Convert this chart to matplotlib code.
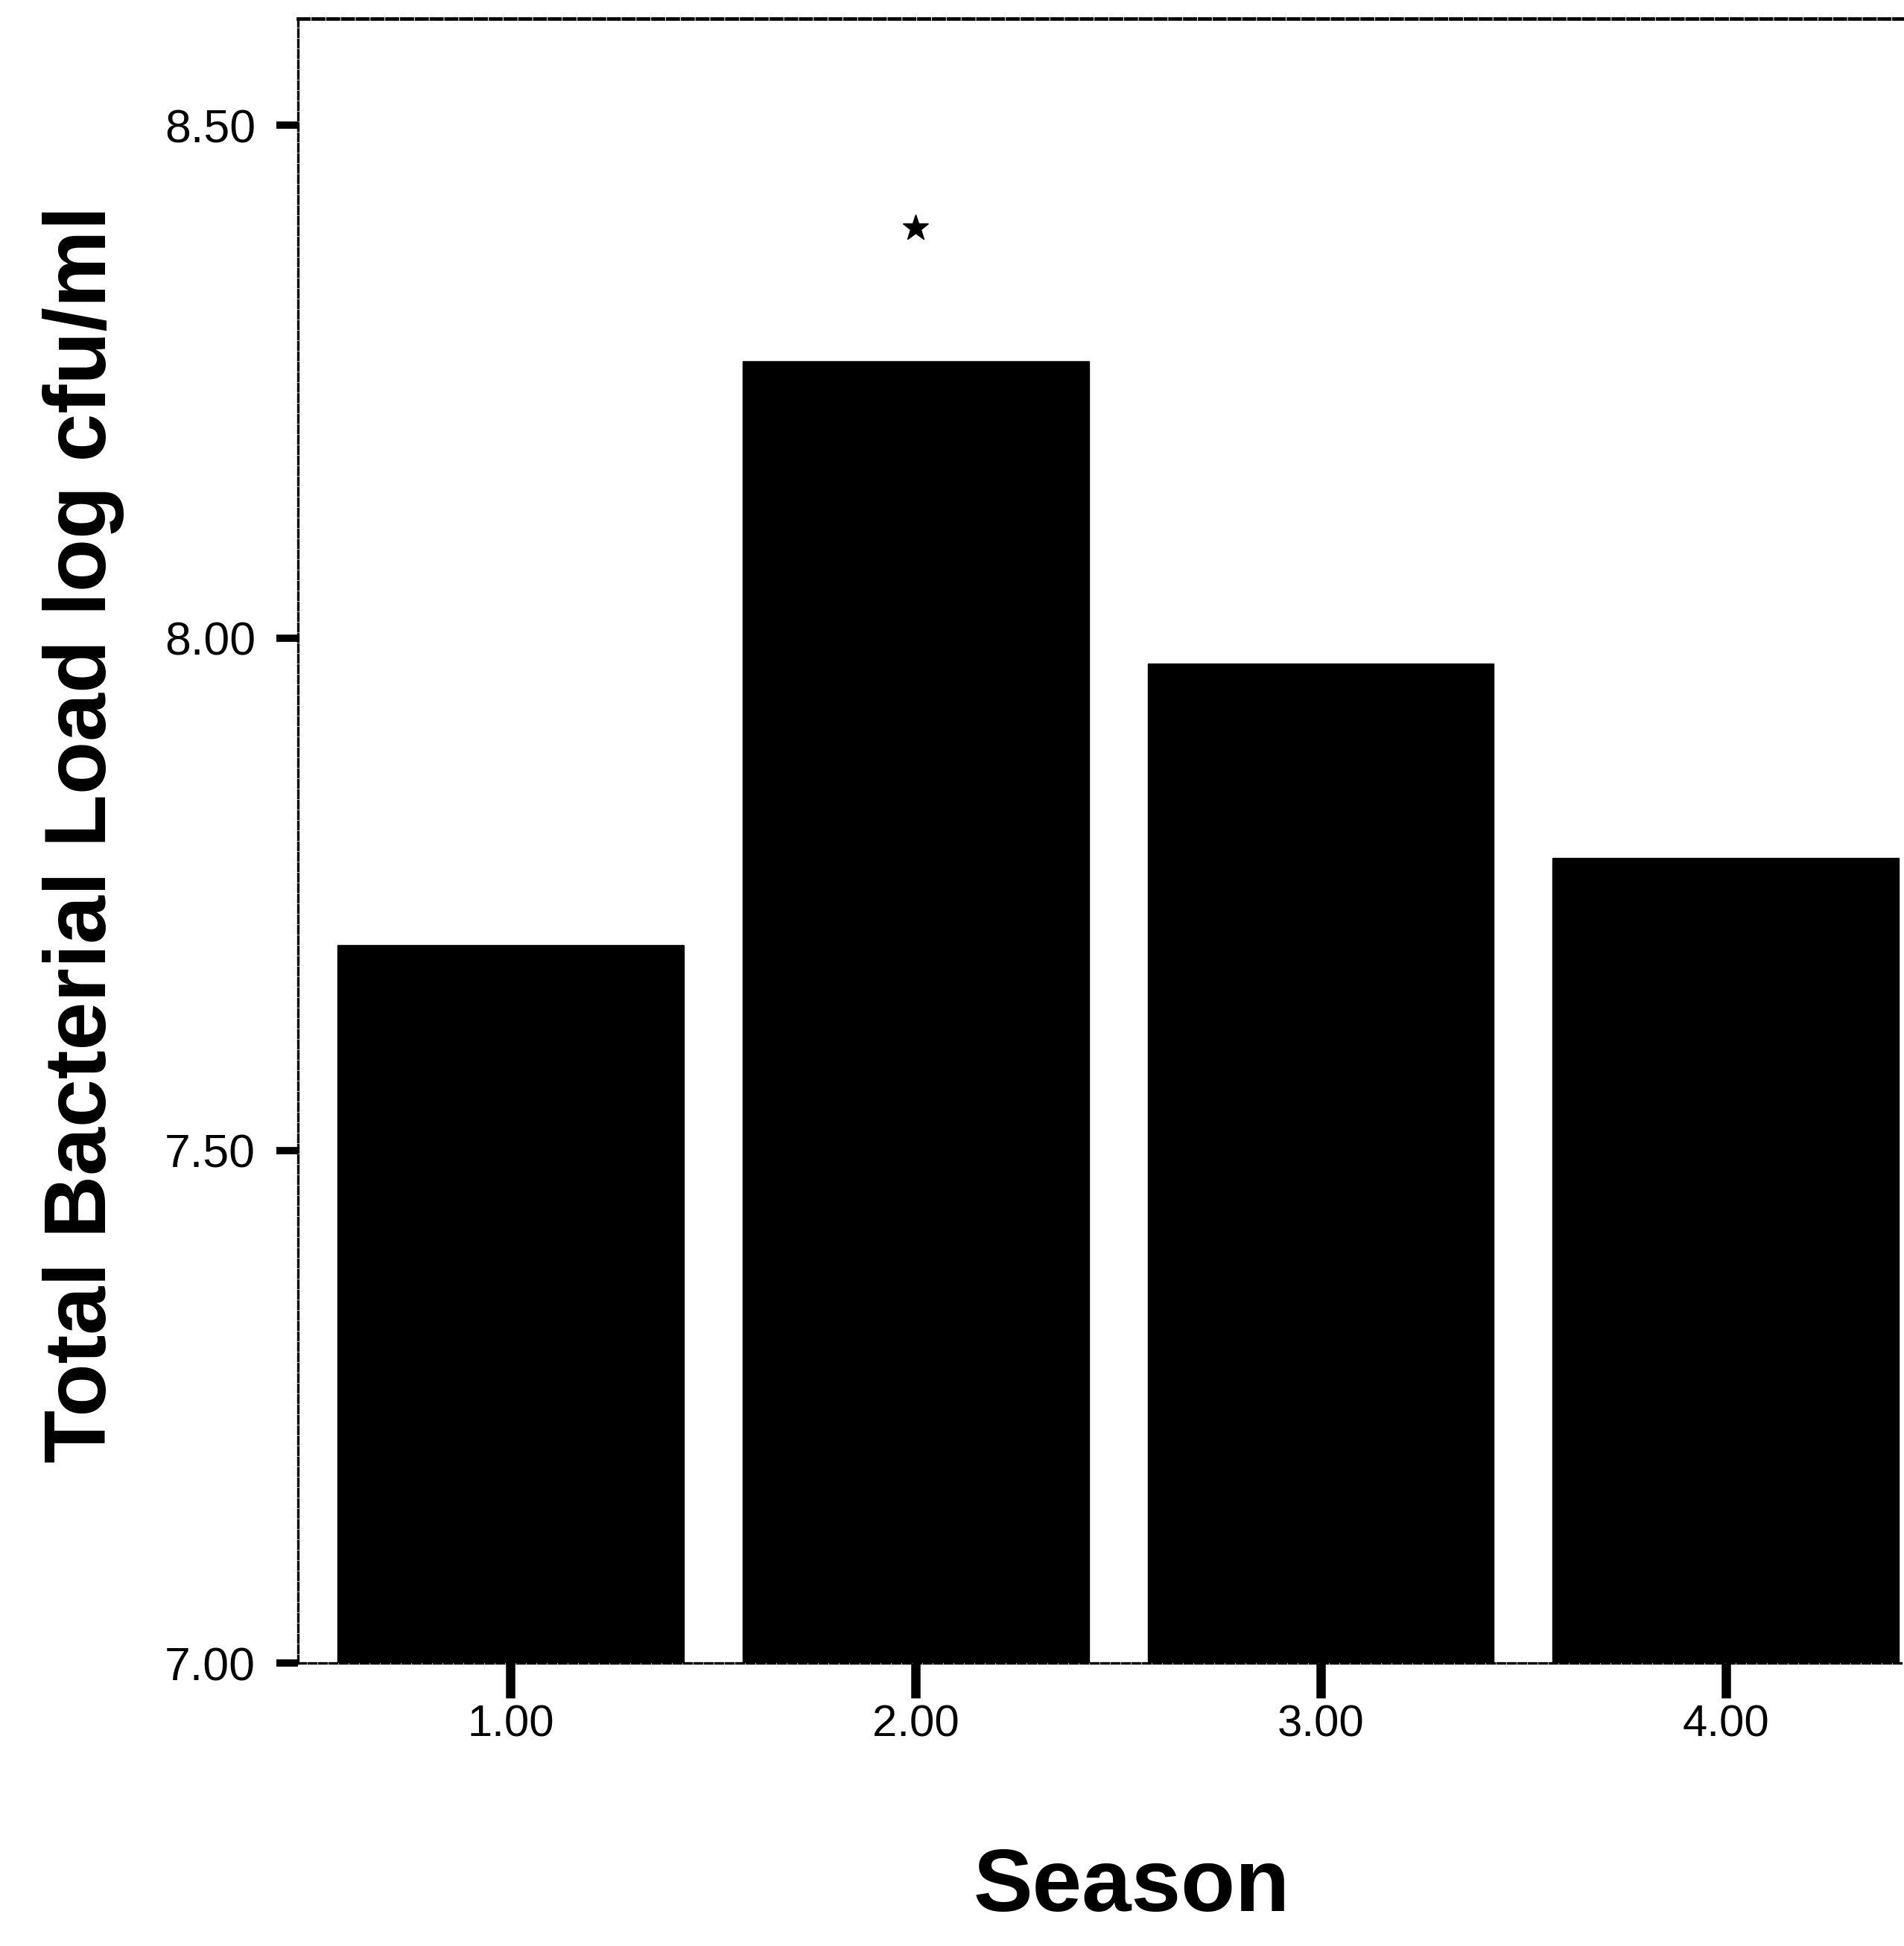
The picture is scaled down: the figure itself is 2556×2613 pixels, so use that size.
import matplotlib.pyplot as plt

# seasonal mean bacterial load (log cfu/ml)
season = [1, 2, 3, 4]
season_labels = ['1.00', '2.00', '3.00', '4.00']
load_mean = [7.70, 8.27, 7.975, 7.785]

# significance star over season 2
star_season = 2
star_value = 8.40

ytick_vals = [7.0, 7.5, 8.0, 8.5]
ytick_labels = ['7.00', '7.50', '8.00', '8.50']

plt.rcParams['font.family'] = ['Liberation Sans', 'DejaVu Sans']

fig = plt.figure(figsize=(25.56, 26.13), dpi=100)
ax = fig.add_axes([0.1565, 0.1454, 0.8435, 0.845])

ax.bar(season, load_mean, width=0.855, color='black', edgecolor='black', zorder=3)
ax.plot([star_season], [star_value], marker='*', ms=26, color='black', ls='none', zorder=4)

ax.set_xlim(0.475, 4.44)
ax.set_ylim(7.0, 8.604)

ax.set_xticks(season)
ax.set_xticklabels(season_labels)
ax.set_yticks(ytick_vals)
ax.set_yticklabels(ytick_labels)

ax.tick_params(axis='y', direction='out', length=21, width=7, pad=20, labelsize=45)
ax.tick_params(axis='x', direction='out', length=34, width=9, pad=6, labelsize=43)

# scanned-looking frame: dashed spines, no right side
ax.spines['right'].set_visible(False)
for side in ['left', 'bottom', 'top']:
    ax.spines[side].set_linestyle((0, (3, 1.2)))
    ax.spines[side].set_linewidth(2.4)
ax.spines['top'].set_linewidth(3.4)

ax.set_ylabel('Total Bacterial Load log cfu/ml', fontsize=84, fontweight='bold')
ax.yaxis.set_label_coords(-0.108, 0.504)
ax.set_xlabel('Season', fontsize=86, fontweight='bold')
ax.xaxis.set_label_coords(0.519, -0.112)

plt.savefig('out.png', dpi=100)
